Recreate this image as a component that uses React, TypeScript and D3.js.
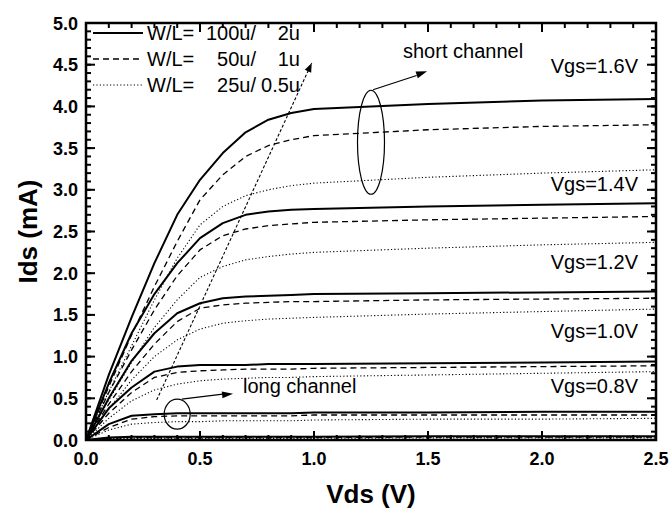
import React from 'react'
import * as d3 from 'd3'

// Vds sample points (V)
const vds = [0, 0.1, 0.2, 0.3, 0.4, 0.5, 0.6, 0.7, 0.8, 0.9, 1.0, 1.5, 2.0, 2.5]

// Ids (mA), per Vgs and geometry
const solid16 = [0, 0.78, 1.47, 2.12, 2.7, 3.12, 3.44, 3.69, 3.84, 3.92, 3.97, 4.03, 4.07, 4.09]
const dash16 = [0, 0.64, 1.26, 1.84, 2.38, 2.88, 3.18, 3.4, 3.53, 3.6, 3.65, 3.72, 3.76, 3.78]
const dot16 = [0, 0.58, 1.13, 1.68, 2.18, 2.58, 2.8, 2.93, 3.0, 3.05, 3.08, 3.15, 3.2, 3.24]

const solid14 = [0, 0.68, 1.28, 1.75, 2.12, 2.42, 2.6, 2.7, 2.74, 2.76, 2.77, 2.8, 2.82, 2.84]
const dash14 = [0, 0.57, 1.08, 1.56, 1.97, 2.28, 2.45, 2.53, 2.57, 2.59, 2.61, 2.64, 2.66, 2.68]
const dot14 = [0, 0.48, 0.93, 1.35, 1.68, 1.95, 2.08, 2.16, 2.2, 2.23, 2.25, 2.3, 2.34, 2.37]

const solid12 = [0, 0.5, 0.95, 1.28, 1.52, 1.64, 1.7, 1.72, 1.73, 1.74, 1.75, 1.76, 1.77, 1.78]
const dash12 = [0, 0.43, 0.82, 1.15, 1.42, 1.58, 1.62, 1.64, 1.65, 1.66, 1.66, 1.68, 1.69, 1.7]
const dot12 = [0, 0.37, 0.72, 1.0, 1.2, 1.33, 1.4, 1.43, 1.45, 1.46, 1.47, 1.51, 1.54, 1.57]

const solid10 = [0, 0.38, 0.63, 0.82, 0.88, 0.9, 0.9, 0.9, 0.91, 0.91, 0.91, 0.92, 0.93, 0.94]
const dash10 = [0, 0.32, 0.57, 0.75, 0.81, 0.83, 0.84, 0.85, 0.85, 0.85, 0.86, 0.87, 0.88, 0.89]
const dot10 = [0, 0.26, 0.47, 0.6, 0.67, 0.71, 0.73, 0.74, 0.75, 0.75, 0.76, 0.78, 0.8, 0.82]

const solid08 = [0, 0.19, 0.29, 0.31, 0.32, 0.32, 0.32, 0.32, 0.32, 0.32, 0.33, 0.33, 0.34, 0.34]
const dash08 = [0, 0.15, 0.25, 0.28, 0.29, 0.29, 0.29, 0.29, 0.29, 0.29, 0.3, 0.3, 0.3, 0.3]
const dot08 = [0, 0.12, 0.19, 0.21, 0.22, 0.22, 0.23, 0.23, 0.23, 0.23, 0.24, 0.25, 0.25, 0.26]

const solid06 = [0, 0.03, 0.04, 0.04, 0.04, 0.04, 0.04, 0.04, 0.04, 0.04, 0.04, 0.045, 0.045, 0.045]
const dash06 = [0, 0.02, 0.03, 0.03, 0.03, 0.03, 0.03, 0.03, 0.03, 0.03, 0.03, 0.035, 0.035, 0.035]
const dot06 = [0, 0.015, 0.02, 0.02, 0.02, 0.02, 0.02, 0.02, 0.02, 0.02, 0.02, 0.025, 0.025, 0.025]

const solidSeries = [solid16, solid14, solid12, solid10, solid08, solid06]
const dashSeries = [dash16, dash14, dash12, dash10, dash08, dash06]
const dotSeries = [dot16, dot14, dot12, dot10, dot08, dot06]

const vgsLabels = ['Vgs=1.6V', 'Vgs=1.4V', 'Vgs=1.2V', 'Vgs=1.0V', 'Vgs=0.8V']
const vgsLabelY = [4.4, 2.98, 2.05, 1.22, 0.56]

const legendRows = [
  { wl: '100u/', l: '2u', dash: 'none', width: 2 },
  { wl: '50u/', l: '1u', dash: '6,4', width: 1.3 },
  { wl: '25u/', l: '0.5u', dash: '1.2,2.2', width: 1.1 },
]

const xTicks = [0, 0.5, 1.0, 1.5, 2.0, 2.5]
const yTicks = [0, 0.5, 1.0, 1.5, 2.0, 2.5, 3.0, 3.5, 4.0, 4.5, 5.0]

// locus arrow (Vds, Ids)
const locusStart = [0.31, 0.48]
const locusEnd = [0.99, 4.52]

const W = 671
const H = 515
const m = { left: 86, right: 15, top: 23, bottom: 75 }
const FONT = '"Liberation Sans", Arial, Helvetica, sans-serif'

function arrowHead(x1: number, y1: number, x2: number, y2: number, len = 10, half = 3.5) {
  const a = Math.atan2(y2 - y1, x2 - x1)
  const bx = x2 - len * Math.cos(a)
  const by = y2 - len * Math.sin(a)
  const px = -Math.sin(a) * half
  const py = Math.cos(a) * half
  return `M${x2},${y2}L${bx + px},${by + py}L${bx - px},${by - py}Z`
}

export default function App() {
  const x = d3.scaleLinear().domain([0, 2.5]).range([m.left, W - m.right])
  const y = d3.scaleLinear().domain([0, 5]).range([H - m.bottom, m.top])
  const line = d3.line<number>().x((_, i) => x(vds[i])).y(d => y(d))

  const x0 = x(0), x1 = x(2.5), y0 = y(0), y1 = y(5)
  const minorX = d3.range(0, 2.5001, 0.1).map(v => +v.toFixed(2))
  const minorY = d3.range(0, 5.0001, 0.1).map(v => +v.toFixed(2))

  const lsx = x(locusStart[0]), lsy = y(locusStart[1])
  const lex = x(locusEnd[0]), ley = y(locusEnd[1])

  return (
    <div style={{ position: 'fixed', left: 0, top: 0, width: W, height: H, background: '#fff' }}>
      <svg width={W} height={H} style={{ display: 'block' }} fontFamily={FONT}>
        <rect width={W} height={H} fill="#fff" />

        {/* curves */}
        {solidSeries.map((s, i) => (
          <path key={'s' + i} d={line(s) || ''} fill="none" stroke="#000" strokeWidth={2} strokeLinejoin="round" />
        ))}
        {dashSeries.map((s, i) => (
          <path key={'d' + i} d={line(s) || ''} fill="none" stroke="#000" strokeWidth={1.3} strokeDasharray="6,4" />
        ))}
        {dotSeries.map((s, i) => (
          <path key={'o' + i} d={line(s) || ''} fill="none" stroke="#000" strokeWidth={1.1} strokeDasharray="1.2,2.2" />
        ))}

        {/* Vdsat locus arrow */}
        <line x1={lsx} y1={lsy} x2={lex} y2={ley} stroke="#000" strokeWidth={1.1} strokeDasharray="3,2" />
        <path d={arrowHead(lsx, lsy, lex, ley, 9, 3.5)} fill="#000" />

        {/* short channel ellipse + arrow */}
        <ellipse cx={x(1.25)} cy={y(3.57)} rx={13.5} ry={52} fill="none" stroke="#000" strokeWidth={1.2} />
        <line x1={x(1.259)} y1={y(4.2)} x2={x(1.45)} y2={y(4.37)} stroke="#000" strokeWidth={1.2} />
        <path d={arrowHead(x(1.259), y(4.2), x(1.496), y(4.42), 11, 3.5)} fill="#000" />
        <text x={403} y={58} fontSize={20}>short channel</text>

        {/* long channel circle + arrow */}
        <ellipse cx={x(0.4)} cy={y(0.31)} rx={13} ry={15} fill="none" stroke="#000" strokeWidth={1.2} />
        <line x1={x(0.42)} y1={y(0.49)} x2={x(0.6)} y2={y(0.55)} stroke="#000" strokeWidth={1.2} />
        <path d={arrowHead(x(0.42), y(0.49), x(0.645), y(0.555), 11, 3.5)} fill="#000" />
        <text x={243} y={393} fontSize={20}>long channel</text>

        {/* Vgs labels */}
        {vgsLabels.map((t, i) => (
          <text key={t} x={638} y={y(vgsLabelY[i])} fontSize={20} textAnchor="end">{t}</text>
        ))}

        {/* legend */}
        {legendRows.map((r, i) => {
          const ly = 33 + i * 26
          return (
            <g key={r.wl}>
              <line x1={93} x2={143} y1={ly} y2={ly} stroke="#000" strokeWidth={r.width} strokeDasharray={r.dash} />
              <text x={147} y={ly + 7} fontSize={20}>W/L=</text>
              <text x={256} y={ly + 7} fontSize={20} textAnchor="end">{r.wl}</text>
              <text x={300} y={ly + 7} fontSize={20} textAnchor="end">{r.l}</text>
            </g>
          )
        })}

        {/* minor ticks */}
        {minorX.map(v => (
          <g key={'mx' + v}>
            <line x1={x(v)} x2={x(v)} y1={y0} y2={y0 - 5} stroke="#000" strokeWidth={2} />
            <line x1={x(v)} x2={x(v)} y1={y1} y2={y1 + 5} stroke="#000" strokeWidth={2} />
          </g>
        ))}
        {minorY.map(v => (
          <g key={'my' + v}>
            <line x1={x0} x2={x0 + 5} y1={y(v)} y2={y(v)} stroke="#000" strokeWidth={2} />
            <line x1={x1} x2={x1 - 5} y1={y(v)} y2={y(v)} stroke="#000" strokeWidth={2} />
          </g>
        ))}
        {/* major ticks */}
        {xTicks.map(v => (
          <g key={'Mx' + v}>
            <line x1={x(v)} x2={x(v)} y1={y0} y2={y0 - 9} stroke="#000" strokeWidth={2} />
            <line x1={x(v)} x2={x(v)} y1={y1} y2={y1 + 9} stroke="#000" strokeWidth={2} />
            <text x={x(v)} y={y0 + 25} fontSize={18} fontWeight="bold" textAnchor="middle">{v.toFixed(1)}</text>
          </g>
        ))}
        {yTicks.map(v => (
          <g key={'My' + v}>
            <line x1={x0} x2={x0 + 9} y1={y(v)} y2={y(v)} stroke="#000" strokeWidth={2} />
            <line x1={x1} x2={x1 - 9} y1={y(v)} y2={y(v)} stroke="#000" strokeWidth={2} />
            <text x={x0 - 8} y={y(v) + 6.5} fontSize={18} fontWeight="bold" textAnchor="end">{v.toFixed(1)}</text>
          </g>
        ))}

        {/* frame */}
        <rect x={x0} y={y1} width={x1 - x0} height={y0 - y1} fill="none" stroke="#000" strokeWidth={2.5} />

        {/* axis titles */}
        <text x={371} y={503} fontSize={26} fontWeight="bold" textAnchor="middle">Vds (V)</text>
        <text transform={`translate(37,${(y0 + y1) / 2}) rotate(-90)`} fontSize={26} fontWeight="bold" textAnchor="middle">Ids (mA)</text>
      </svg>
    </div>
  )
}
